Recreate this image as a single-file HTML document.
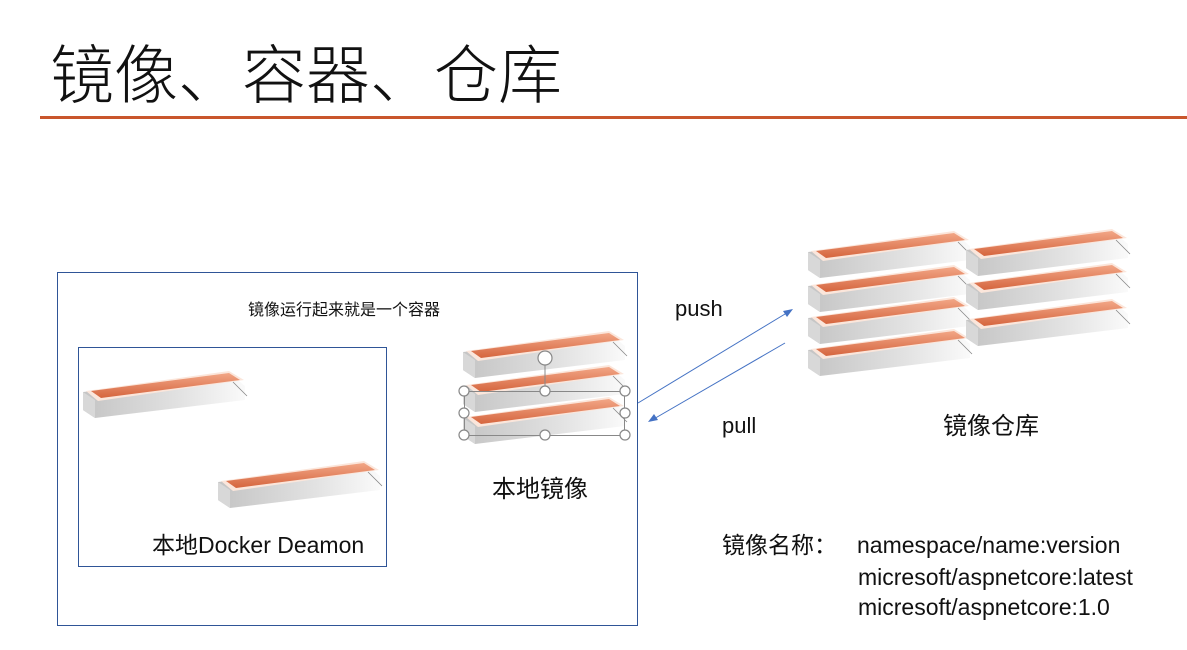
<!DOCTYPE html>
<html><head><meta charset="utf-8"><style>
html,body{margin:0;padding:0;background:#fff;}
svg{display:block;}
text{font-family:"Liberation Sans","Noto Sans CJK SC",sans-serif;fill:#111;}
</style></head><body>
<svg width="1187" height="650" viewBox="0 0 1187 650" xmlns="http://www.w3.org/2000/svg">
<defs>
<linearGradient id="gb" x1="0" y1="0" x2="1" y2="0">
<stop offset="0" stop-color="#c4c4c4"/><stop offset="0.6" stop-color="#e2e2e2"/><stop offset="1" stop-color="#fafafa"/>
</linearGradient>
<linearGradient id="go" x1="0" y1="0" x2="0" y2="1">
<stop offset="0" stop-color="#f2a686"/><stop offset="1" stop-color="#d5653e"/>
</linearGradient>
<g id="slab">
<polygon points="0,22 150,6 162,16 162,30 12,48 0,40" fill="url(#gb)"/>
<polygon points="0,22 12,30 12,48 0,40" fill="#d8d8d8"/>
<polygon points="3,21 146,1 161,10 15,31" fill="#fbe6db"/>
<polygon points="8,21 146,3 157,10 18,28" fill="url(#go)"/>
<line x1="150" y1="12" x2="164" y2="26" stroke="#888" stroke-width="0.8"/>
</g>
</defs>
<text x="50" y="98" font-size="64" font-weight="300">镜像、容器、仓库</text>
<rect x="40" y="116" width="1147" height="3" fill="#c9562c"/>

<rect x="57.5" y="272.5" width="580" height="353" fill="none" stroke="#2f5597" stroke-width="1"/>
<rect x="78.5" y="347.5" width="308" height="219" fill="none" stroke="#2f5597" stroke-width="1"/>
<text x="248" y="315" font-size="16">镜像运行起来就是一个容器</text>

<use href="#slab" x="83" y="370"/>
<use href="#slab" x="218" y="460"/>
<text x="152" y="553" font-size="23">本地Docker Deamon</text>

<use href="#slab" x="463" y="330"/>
<use href="#slab" x="463" y="364"/>
<use href="#slab" x="463" y="396"/>
<rect x="464.5" y="391.5" width="160" height="44" fill="none" stroke="#888" stroke-width="1"/>
<line x1="545" y1="365" x2="545" y2="391" stroke="#888"/>
<g fill="#fff" stroke="#888" stroke-width="1.2">
<circle cx="464" cy="391" r="5"/><circle cx="545" cy="391" r="5"/><circle cx="625" cy="391" r="5"/>
<circle cx="464" cy="413" r="5"/><circle cx="625" cy="413" r="5"/>
<circle cx="464" cy="435" r="5"/><circle cx="545" cy="435" r="5"/><circle cx="625" cy="435" r="5"/>
<circle cx="545" cy="358" r="7"/>
</g>
<text x="492" y="497" font-size="24">本地镜像</text>

<line x1="638" y1="403" x2="790" y2="311" stroke="#4472c4" stroke-width="1"/>
<polygon points="793,309 783,311 787,317" fill="#4472c4"/>
<line x1="785" y1="343" x2="652" y2="420" stroke="#4472c4" stroke-width="1"/>
<polygon points="648,422 658,420 654,414" fill="#4472c4"/>
<text x="675" y="316" font-size="22">push</text>
<text x="722" y="433" font-size="22">pull</text>

<use href="#slab" x="808" y="230"/>
<use href="#slab" x="808" y="264"/>
<use href="#slab" x="808" y="296"/>
<use href="#slab" x="808" y="328"/>
<use href="#slab" x="966" y="228"/>
<use href="#slab" x="966" y="262"/>
<use href="#slab" x="966" y="298"/>
<text x="943" y="434" font-size="24">镜像仓库</text>

<text x="722" y="553" font-size="23">镜像名称：</text>
<text x="857" y="553" font-size="23">namespace/name:version</text>
<text x="858" y="585" font-size="23">micresoft/aspnetcore:latest</text>
<text x="858" y="615" font-size="23">micresoft/aspnetcore:1.0</text>
</svg>
</body></html>
